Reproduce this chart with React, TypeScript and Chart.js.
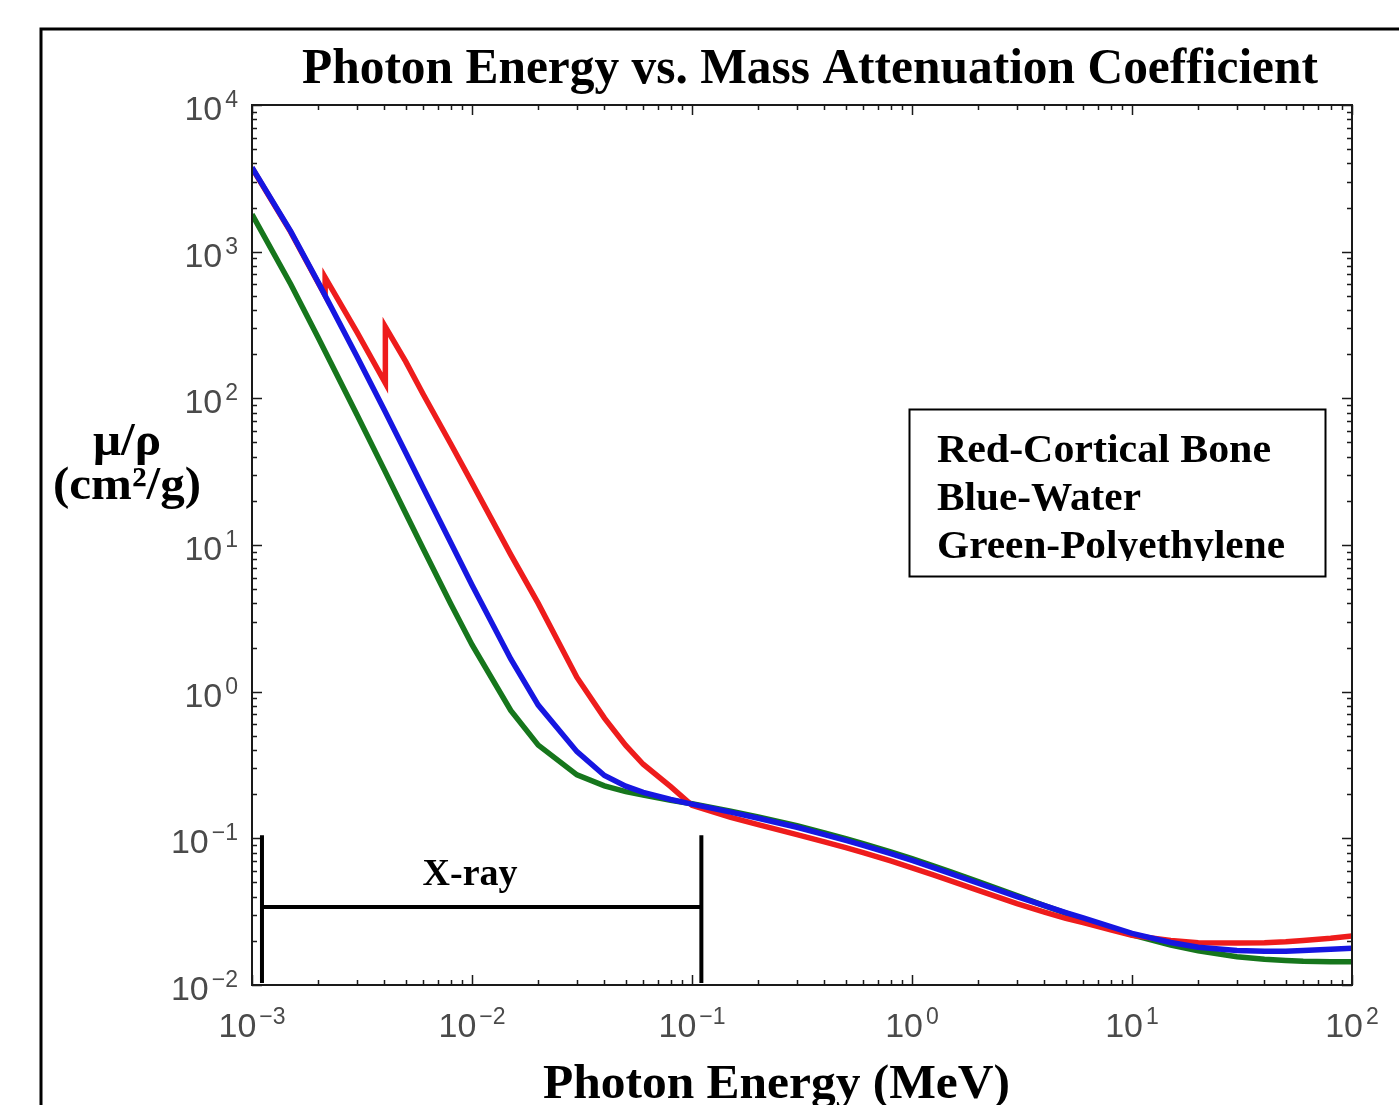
import React, { useEffect, useRef } from "react";
import { Chart, registerables } from "chart.js";
Chart.register(...registerables);

// ---- Data (photon energy in MeV, mass attenuation coefficient in cm^2/g) ----
const energyGrid = [0.001, 0.0015, 0.002, 0.003, 0.004, 0.005, 0.006, 0.008, 0.01, 0.015, 0.02, 0.03, 0.04, 0.05, 0.06, 0.08, 0.1, 0.15, 0.2, 0.3, 0.4, 0.5, 0.6, 0.8, 1, 1.25, 1.5, 2, 3, 4, 5, 6, 8, 10, 15, 20, 30, 40, 50, 60, 80, 100];
const waterMu = [3750, 1376, 617, 193, 82.8, 42.6, 24.6, 10.4, 5.33, 1.67, 0.81, 0.39, 0.268, 0.227, 0.206, 0.184, 0.171, 0.151, 0.137, 0.119, 0.106, 0.0969, 0.0896, 0.0787, 0.0707, 0.0632, 0.0575, 0.0494, 0.0400, 0.0348, 0.0312, 0.0287, 0.0250, 0.0225, 0.0195, 0.0181, 0.0172, 0.0170, 0.0170, 0.0172, 0.0175, 0.0178];
const polyethyleneMu = [1800, 600, 259, 77.4, 32.4, 16.4, 9.43, 3.97, 2.09, 0.745, 0.432, 0.271, 0.228, 0.208, 0.197, 0.182, 0.172, 0.153, 0.140, 0.122, 0.109, 0.0995, 0.092, 0.0808, 0.0726, 0.065, 0.0591, 0.0507, 0.0407, 0.0348, 0.0309, 0.0281, 0.0244, 0.022, 0.0187, 0.0171, 0.0156, 0.0150, 0.0147, 0.0145, 0.0144, 0.0144];
const boneEnergy = [0.001, 0.0015, 0.002, 0.00215, 0.00215, 0.003, 0.004038, 0.004038, 0.005, 0.006, 0.008, 0.01, 0.015, 0.02, 0.03, 0.04, 0.05, 0.06, 0.08, 0.1, 0.15, 0.2, 0.3, 0.4, 0.5, 0.6, 0.8, 1, 1.25, 1.5, 2, 3, 4, 5, 6, 8, 10, 15, 20, 30, 40, 50, 60, 80, 100];
const boneMu = [3720, 1360, 612, 502, 668, 283, 127, 307, 178, 106.6, 49, 26.5, 8.6, 4.0, 1.25, 0.66, 0.43, 0.32, 0.225, 0.168, 0.139, 0.124, 0.106, 0.0947, 0.0865, 0.0799, 0.0701, 0.063, 0.0563, 0.0513, 0.0442, 0.0359, 0.0314, 0.0285, 0.0266, 0.0238, 0.0218, 0.0201, 0.0194, 0.0193, 0.0194, 0.0197, 0.0201, 0.0208, 0.0216];

const xDecades = [-3, -2, -1, 0, 1, 2];
const yDecades = [-2, -1, 0, 1, 2, 3, 4];

const xrayBounds = [0.00111, 0.1103];
const xrayBarMu = 0.034;
const xrayTopMu = 0.105;
const xrayLabelEnergy = 0.0098;
const xrayLabelMu = 0.048;

const titleText = "Photon Energy vs. Mass Attenuation Coefficient";
const xTitleText = "Photon Energy (MeV)";
const yTitleLines = ["μ/ρ", "(cm²/g)"];
const legendLines = ["Red-Cortical Bone", "Blue-Water", "Green-Polyethylene"];
const xrayText = "X-ray";

const RED = "rgb(238,28,28)";
const BLUE = "rgb(22,22,225)";
const GREEN = "rgb(22,118,28)";

const SERIF = '"Liberation Serif", "Times New Roman", serif';
const SANS = '"Liberation Sans", Arial, sans-serif';

function fitText(ctx: CanvasRenderingContext2D, text: string, x: number, y: number, font: string, width: number, align: "left" | "center" = "left") {
  ctx.save();
  ctx.font = font;
  ctx.textAlign = "left";
  ctx.textBaseline = "alphabetic";
  const w = ctx.measureText(text).width;
  const s = width / w;
  ctx.translate(x, y);
  ctx.scale(s, 1);
  ctx.fillText(text, align === "center" ? -w / 2 : 0, 0);
  ctx.restore();
}

function expLabel(e: number) {
  return e < 0 ? "\u2212" + Math.abs(e) : String(e);
}

const decorPlugin = {
  id: "decor",
  beforeDraw(chart: any) {
    const ctx = chart.ctx as CanvasRenderingContext2D;
    ctx.save();
    ctx.fillStyle = "#fff";
    ctx.fillRect(0, 0, chart.width, chart.height);
    ctx.restore();
  },
  afterDatasetsDraw(chart: any) {
    const ctx = chart.ctx as CanvasRenderingContext2D;
    const xs = chart.scales.x;
    const ys = chart.scales.y;
    const a = chart.chartArea;
    ctx.save();

    // outer frame (left and top edges visible)
    ctx.strokeStyle = "#000";
    ctx.lineWidth = 3;
    ctx.beginPath();
    ctx.moveTo(41, 1105);
    ctx.lineTo(41, 29);
    ctx.lineTo(1399, 29);
    ctx.stroke();

    // plot frame
    ctx.strokeStyle = "#1a1a1a";
    ctx.lineWidth = 2;
    ctx.strokeRect(a.left, a.top, a.right - a.left, a.bottom - a.top);

    // ticks
    ctx.lineWidth = 1.5;
    ctx.beginPath();
    for (let di = 0; di < xDecades.length; di++) {
      const d = xDecades[di];
      for (let k = 1; k <= 9; k++) {
        if (di === xDecades.length - 1 && k > 1) break;
        const v = k * Math.pow(10, d);
        const px = Math.round(xs.getPixelForValue(v)) + 0.5;
        const len = k === 1 ? 10 : 5;
        ctx.moveTo(px, a.bottom);
        ctx.lineTo(px, a.bottom - len);
        ctx.moveTo(px, a.top);
        ctx.lineTo(px, a.top + len);
      }
    }
    for (let di = 0; di < yDecades.length; di++) {
      const d = yDecades[di];
      for (let k = 1; k <= 9; k++) {
        if (di === yDecades.length - 1 && k > 1) break;
        const v = k * Math.pow(10, d);
        const py = Math.round(ys.getPixelForValue(v)) + 0.5;
        const len = k === 1 ? 10 : 5;
        ctx.moveTo(a.left, py);
        ctx.lineTo(a.left + len, py);
        ctx.moveTo(a.right, py);
        ctx.lineTo(a.right - len, py);
      }
    }
    ctx.stroke();

    // tick labels
    ctx.fillStyle = "#4a4a4a";
    ctx.textBaseline = "alphabetic";
    ctx.textAlign = "left";
    const baseFont = "34px " + SANS;
    const expFont = "23px " + SANS;
    for (const d of xDecades) {
      const px = xs.getPixelForValue(Math.pow(10, d));
      ctx.font = baseFont;
      const wb = ctx.measureText("10").width;
      ctx.font = expFont;
      const es = expLabel(d);
      const we = ctx.measureText(es).width;
      const start = px - (wb + 3 + we) / 2;
      ctx.font = baseFont;
      ctx.fillText("10", start, a.bottom + 52);
      ctx.font = expFont;
      ctx.fillText(es, start + wb + 3, a.bottom + 39);
    }
    for (const d of yDecades) {
      const py = ys.getPixelForValue(Math.pow(10, d));
      ctx.font = baseFont;
      const wb = ctx.measureText("10").width;
      ctx.font = expFont;
      const es = expLabel(d);
      const we = ctx.measureText(es).width;
      const start = a.left - 14 - (wb + 3 + we);
      ctx.font = baseFont;
      ctx.fillText("10", start, py + 15);
      ctx.font = expFont;
      ctx.fillText(es, start + wb + 3, py + 2);
    }

    // X-ray range marker
    ctx.strokeStyle = "#000";
    ctx.lineWidth = 4;
    const x0 = xs.getPixelForValue(xrayBounds[0]);
    const x1 = xs.getPixelForValue(xrayBounds[1]);
    const yTop = ys.getPixelForValue(xrayTopMu);
    const yBar = ys.getPixelForValue(xrayBarMu);
    ctx.beginPath();
    ctx.moveTo(x0, yTop);
    ctx.lineTo(x0, a.bottom - 2);
    ctx.moveTo(x1, yTop);
    ctx.lineTo(x1, a.bottom - 2);
    ctx.moveTo(x0, yBar);
    ctx.lineTo(x1, yBar);
    ctx.stroke();
    ctx.fillStyle = "#000";
    fitText(ctx, xrayText, xs.getPixelForValue(xrayLabelEnergy), ys.getPixelForValue(xrayLabelMu), "bold 38px " + SERIF, 95, "center");

    // legend box
    ctx.lineWidth = 2;
    ctx.strokeStyle = "#000";
    ctx.strokeRect(909.5, 409.5, 416, 167);
    ctx.save();
    ctx.beginPath();
    ctx.rect(911, 411, 412, 150);
    ctx.clip();
    const legendWidths = [334, 204, 348];
    const legendBaselines = [462, 510, 558];
    for (let i = 0; i < legendLines.length; i++) {
      fitText(ctx, legendLines[i], 937, legendBaselines[i], "bold 41px " + SERIF, legendWidths[i]);
    }
    ctx.restore();

    // titles
    fitText(ctx, titleText, 302, 83, "bold 50px " + SERIF, 1016);
    fitText(ctx, xTitleText, 543, 1098, "bold 49px " + SERIF, 467);
    fitText(ctx, yTitleLines[0], 127, 455, "bold 46px " + SERIF, 68, "center");
    fitText(ctx, yTitleLines[1], 53, 499, "bold 46px " + SERIF, 148);

    ctx.restore();
  },
};

export default function App() {
  const ref = useRef<HTMLCanvasElement>(null);
  useEffect(() => {
    const canvas = ref.current!;
    const chart = new Chart(canvas, {
      type: "line",
      data: {
        datasets: [
          {
            label: legendLines[1],
            data: energyGrid.map((e, i) => ({ x: e, y: waterMu[i] })),
            borderColor: BLUE,
            borderWidth: 5.5,
            pointRadius: 0,
            tension: 0,
            fill: false,
          },
          {
            label: legendLines[0],
            data: boneEnergy.map((e, i) => ({ x: e, y: boneMu[i] })),
            borderColor: RED,
            borderWidth: 5.5,
            pointRadius: 0,
            tension: 0,
            fill: false,
          },
          {
            label: legendLines[2],
            data: energyGrid.map((e, i) => ({ x: e, y: polyethyleneMu[i] })),
            borderColor: GREEN,
            borderWidth: 5.5,
            pointRadius: 0,
            tension: 0,
            fill: false,
          },
        ],
      },
      options: {
        responsive: false,
        animation: false,
        devicePixelRatio: 1,
        events: [],
        layout: { padding: { left: 252, right: 47, top: 105, bottom: 120 } },
        scales: {
          x: { type: "logarithmic", min: 0.001, max: 100, display: false },
          y: { type: "logarithmic", min: 0.01, max: 10000, display: false },
        },
        plugins: {
          legend: { display: false },
          title: { display: false },
          tooltip: { enabled: false },
        },
      },
      plugins: [decorPlugin],
    } as any);
    return () => chart.destroy();
  }, []);
  return (
    <div style={{ position: "fixed", left: 0, top: 0, width: 1399, height: 1105, background: "#fff", overflow: "hidden" }}>
      <canvas ref={ref} width={1399} height={1105} style={{ display: "block", width: 1399, height: 1105 }} />
    </div>
  );
}
